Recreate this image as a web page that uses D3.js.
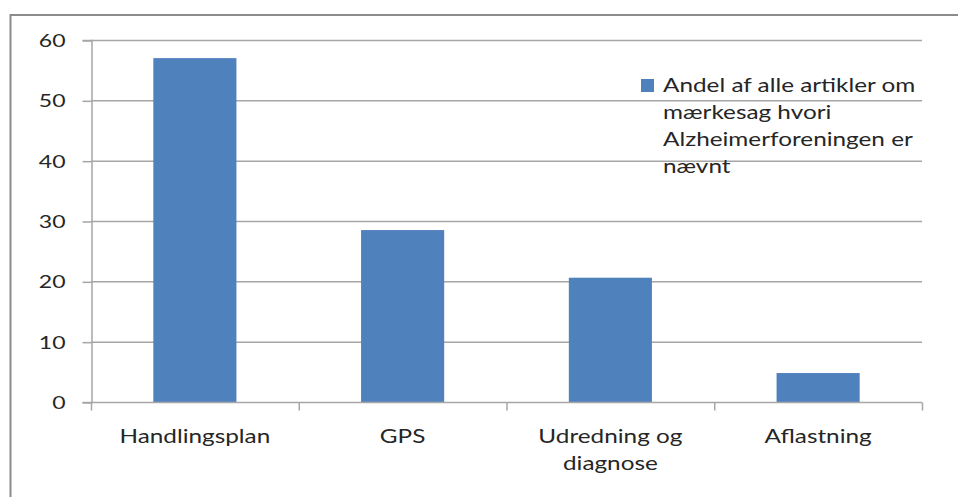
<!DOCTYPE html>
<html>
<head>
<meta charset="utf-8">
<script src="https://cdn.jsdelivr.net/npm/d3@7"></script>
<style>
html,body{margin:0;padding:0;background:#fff;}
svg{display:block;}
text{font-family:Lato, "Open Sans", sans-serif;fill:#262626;}
</style>
</head>
<body>
<svg id="chart" width="958" height="497"></svg>
<script>
const categories = [["Handlingsplan"], ["GPS"], ["Udredning og", "diagnose"], ["Aflastning"]];
const values = [57, 28.5, 20.6, 4.8];
const yTicks = [0, 10, 20, 30, 40, 50, 60];
const legendLines = ["Andel af alle artikler om", "mærkesag hvori", "Alzheimerforeningen er", "nævnt"];

const svg = d3.select("#chart");
const plot = {left: 91, right: 922, top: 40, bottom: 402};
const barColor = "#4f81bd";
const gridColor = "#a6a6a6";
const SX = 1.28; // horizontal stretch of the text, as in the reference

// chart border
svg.append("rect").attr("x", 10.5).attr("y", 15).attr("width", 960).attr("height", 500)
  .attr("fill", "#fff").attr("stroke", "#8c8c8c").attr("stroke-width", 2);

const keys = categories.map((d, i) => i);
const x = d3.scaleBand().domain(keys).range([plot.left, plot.right]).paddingInner(0.6).paddingOuter(0.3);
const xCat = d3.scaleBand().domain(keys).range([plot.left, plot.right]).padding(0);
const y = d3.scaleLinear().domain([0, 60]).range([plot.bottom, plot.top]);

// gridlines
svg.append("g").selectAll("line").data(yTicks.filter(t => t > 0)).join("line")
  .attr("x1", plot.left).attr("x2", plot.right)
  .attr("y1", d => y(d) + 0.5).attr("y2", d => y(d) + 0.5)
  .attr("stroke", gridColor).attr("stroke-width", 1.5);

// y axis
const yAxis = svg.append("g").attr("transform", `translate(${plot.left + 0.5},0)`)
  .call(d3.axisLeft(y).tickValues(yTicks).tickSize(9).tickPadding(17).tickFormat(d3.format("d")));
yAxis.select(".domain").attr("stroke", gridColor).attr("stroke-width", 1.5);
yAxis.selectAll(".tick line").attr("stroke", gridColor).attr("stroke-width", 1.5)
  .attr("transform", "translate(0,0.5)");
yAxis.selectAll(".tick text")
  .attr("font-size", 18).attr("font-family", "Lato, sans-serif").attr("fill", "#262626")
  .attr("x", 0).attr("dy", "0.36em")
  .attr("transform", `translate(-26,0) scale(${SX},1)`);

// bars
svg.append("g").selectAll("rect").data(values).join("rect")
  .attr("x", (d, i) => x(i)).attr("width", x.bandwidth())
  .attr("y", d => y(d)).attr("height", d => y(0) - y(d))
  .attr("fill", barColor);

// x axis
const xAxisG = svg.append("g").attr("transform", `translate(0,${plot.bottom + 0.5})`);
xAxisG.append("line").attr("x1", plot.left).attr("x2", plot.right)
  .attr("stroke", gridColor).attr("stroke-width", 1.5);
const catEdges = keys.map(k => xCat(k)).concat([plot.right]);
xAxisG.selectAll("line.tk").data(catEdges).join("line").attr("class", "tk")
  .attr("x1", d => d + 0.5).attr("x2", d => d + 0.5).attr("y1", 0).attr("y2", 8)
  .attr("stroke", gridColor).attr("stroke-width", 1.5);

const labels = svg.append("g").selectAll("text").data(categories).join("text")
  .attr("transform", (d, i) => `translate(${xCat(i) + xCat.bandwidth() / 2},443) scale(${SX},1)`)
  .attr("text-anchor", "middle").attr("font-size", 19);
labels.selectAll("tspan").data(d => d).join("tspan")
  .attr("x", 0)
  .attr("dy", (d, i) => i === 0 ? 0 : 27)
  .text(d => d);

// legend
const lg = svg.append("g");
lg.append("rect").attr("x", 641).attr("y", 79).attr("width", 13).attr("height", 13).attr("fill", barColor);
lg.selectAll("text").data(legendLines).join("text")
  .attr("transform", (d, i) => `translate(663,${92 + i * 27}) scale(${SX},1)`)
  .attr("font-size", 19).text(d => d);
</script>
</body>
</html>
